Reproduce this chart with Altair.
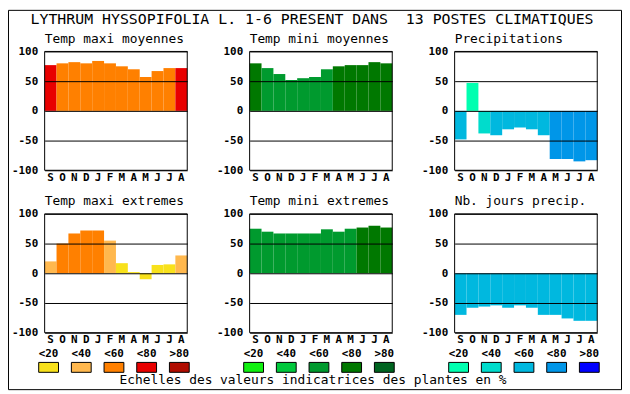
import altair as alt
import pandas as pd

MONTHS = ["S", "O", "N", "D", "J", "F", "M", "A", "M", "J", "J", "A"]
KEYS = [f"{i:02d}{m}" for i, m in enumerate(MONTHS)]
CLASSES = ["<20", "<40", "<60", "<80", ">80"]

PAL_MAXI = ["#F8E11B", "#FFB84E", "#FF8000", "#E80000", "#B00C00"]
PAL_MINI = ["#10F010", "#00C83C", "#009A2E", "#007800", "#006420"]
PAL_PREC = ["#00FFB0", "#00DCCC", "#00B8DF", "#0096E8", "#0000FF"]
GROUPS = ["maxi", "mini", "prec"]

TITLE = "LYTHRUM HYSSOPIFOLIA L. 1-6 PRESENT DANS \u00a013 POSTES CLIMATIQUES"
CAPTION = "Echelles des valeurs indicatrices des plantes en %"

TMAX_MOY = [77, 80, 82, 80, 84, 80, 75, 70, 57, 67, 72, 72]
TMAX_MOY_C = ["<80", "<60", "<60", "<60", "<60", "<60", "<60", "<60", "<60", "<60", "<60", "<80"]

TMIN_MOY = [80, 72, 62, 52, 55, 57, 70, 75, 77, 77, 82, 80]
TMIN_MOY_C = ["<80", "<60", "<60", "<60", "<60", "<60", "<60", "<80", "<80", "<80", "<80", "<80"]

PREC = [-48, 47, -38, -41, -31, -28, -31, -41, -81, -81, -85, -83]
PREC_C = ["<60", "<20", "<40", "<60", "<60", "<60", "<60", "<60", "<80", "<80", "<80", "<80"]

TMAX_EXT = [20, 50, 67, 72, 72, 55, 17, 2, -10, 14, 15, 30]
TMAX_EXT_C = ["<40", "<60", "<60", "<60", "<60", "<40", "<20", "<20", "<20", "<20", "<20", "<40"]

TMIN_EXT = [75, 70, 67, 67, 67, 67, 74, 70, 75, 77, 80, 77]
TMIN_EXT_C = ["<60", "<60", "<60", "<60", "<60", "<60", "<60", "<60", "<60", "<80", "<80", "<80"]

NB_JOURS = [-70, -58, -56, -54, -58, -54, -58, -70, -70, -76, -80, -80]
NB_JOURS_C = ["<60"] * 12

COLOR_DOMAIN = [f"{g}{c}" for g in GROUPS for c in CLASSES]
COLOR_RANGE = PAL_MAXI + PAL_MINI + PAL_PREC
COLOR_SCALE = alt.Scale(domain=COLOR_DOMAIN, range=COLOR_RANGE)

MONO = "DejaVu Sans Mono"
W, H = 144, 120


def panel(title, values, classes, group):
    df = pd.DataFrame({"key": KEYS, "v": values, "c": [group + c for c in classes]})
    bars = alt.Chart(df).mark_bar().encode(
        x=alt.X("key:N", sort=KEYS,
                scale=alt.Scale(paddingInner=0, paddingOuter=0),
                axis=alt.Axis(title=None, labelExpr="substring(datum.label, 2, 3)",
                              labelAngle=0, ticks=False, domain=False, grid=False,
                              labelFont=MONO, labelFontWeight="bold", labelFontSize=11,
                              labelColor="black", labelPadding=1)),
        y=alt.Y("v:Q", scale=alt.Scale(domain=[-100, 100], nice=False, zero=True),
                axis=alt.Axis(title=None, values=[-100, -50, 0, 50, 100],
                              labelExpr="'' + datum.value",
                              grid=True, gridColor="black", gridOpacity=1, gridWidth=1,
                              ticks=False, domain=False, zindex=1,
                              labelFont=MONO, labelFontWeight="bold", labelFontSize=11,
                              labelColor="black", labelPadding=7)),
        color=alt.Color("c:N", scale=COLOR_SCALE, legend=None),
    )
    frame = alt.Chart(pd.DataFrame({"f": [0]})).mark_rect(
        fillOpacity=0, stroke="black", strokeWidth=1
    ).encode(x=alt.value(0), x2=alt.value(W), y=alt.value(0), y2=alt.value(H))
    return alt.layer(bars, frame).properties(
        width=W, height=H,
        title=alt.TitleParams(title, font=MONO, fontSize=13, fontWeight="normal",
                              color="black", anchor="start", frame="group", offset=0),
    )


def legend_cell(group, first=False):
    df = pd.DataFrame({"c": CLASSES, "k": [group + c for c in CLASSES]})
    xenc = alt.X("c:N", sort=CLASSES,
                 scale=alt.Scale(range=[-6, 146], paddingInner=13 / 33, paddingOuter=0),
                 axis=None)
    sw = alt.Chart(df).mark_rect(stroke="black", strokeWidth=1).encode(
        x=xenc, y=alt.value(-14), y2=alt.value(-4),
        color=alt.Color("k:N", scale=COLOR_SCALE, legend=None),
    )
    lab = alt.Chart(df).mark_text(font=MONO, fontWeight="bold", fontSize=11,
                                  baseline="middle", color="black").encode(
        x=xenc, y=alt.value(-22), text="c:N"
    )
    layers = [sw, lab]
    if first:
        one = pd.DataFrame({"t": [TITLE], "cap": [CAPTION]})
        border = alt.Chart(one).mark_rect(fillOpacity=0, stroke="black", strokeWidth=1).encode(
            x=alt.value(-36.5), x2=alt.value(582.5), y=alt.value(-369.5), y2=alt.value(13.5)
        )
        ttl = alt.Chart(one).mark_text(font=MONO, fontSize=15, baseline="middle",
                                       align="center", color="black").encode(
            x=alt.value(270), y=alt.value(-361), text="t:N"
        )
        cap = alt.Chart(one).mark_text(font=MONO, fontSize=13, baseline="middle",
                                       align="center", color="black").encode(
            x=alt.value(271), y=alt.value(4), text="cap:N"
        )
        layers += [border, ttl, cap]
    return alt.layer(*layers).properties(width=W, height=14)


charts = [
    panel("Temp maxi moyennes", TMAX_MOY, TMAX_MOY_C, "maxi"),
    panel("Temp mini moyennes", TMIN_MOY, TMIN_MOY_C, "mini"),
    panel("Precipitations", PREC, PREC_C, "prec"),
    panel("Temp maxi extremes", TMAX_EXT, TMAX_EXT_C, "maxi"),
    panel("Temp mini extremes", TMIN_EXT, TMIN_EXT_C, "mini"),
    panel("Nb. jours precip.", NB_JOURS, NB_JOURS_C, "prec"),
    legend_cell("maxi", first=True),
    legend_cell("mini"),
    legend_cell("prec"),
]

chart = alt.concat(
    *charts, columns=3,
    spacing=alt.RowColnumber(row=44, column=63),
    bounds="flush",
).properties(padding=0, background="white").configure_view(strokeWidth=0)

chart.save("out.html", embed_options={"renderer": "svg", "actions": False})
